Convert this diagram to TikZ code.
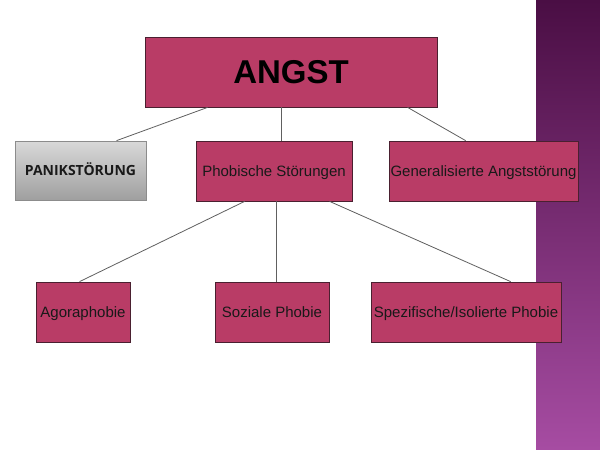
\documentclass[tikz,border=0pt]{standalone}
\usepackage{fontspec}
\setmainfont{Liberation Sans}
\newfontfamily\panikfont{Open Sans}
\usetikzlibrary{shadows}
\definecolor{boxfill}{HTML}{B93C66}
\definecolor{boxedge}{HTML}{4A2030}
\definecolor{bandtop}{HTML}{4A0E44}
\definecolor{bandbot}{HTML}{A64CA2}
\definecolor{linecol}{HTML}{606060}
\tikzset{
  box/.style={draw=boxedge, line width=0.8pt, fill=boxfill, inner sep=0pt,
    font=\fontsize{15}{18}\selectfont, text=black!90, text height=10.8pt, text depth=0pt,
    drop shadow={opacity=0.25, shadow xshift=1.2pt, shadow yshift=-1.2pt}},
  graybox/.style={draw=gray!90, line width=0.8pt, top color=gray!30, bottom color=gray!75,
    inner sep=0pt, font=\panikfont\bfseries\fontsize{14}{16}\selectfont, text=black!90,
    text height=10pt, text depth=0pt,
    drop shadow={opacity=0.25, shadow xshift=1.2pt, shadow yshift=-1.2pt}},
  conn/.style={draw=linecol, line width=0.8pt}
}
\begin{document}
\begin{tikzpicture}[x=1pt,y=-1pt]
\useasboundingbox (0,0) rectangle (600,450);
\fill[white] (0,0) rectangle (600,450);
\shade[top color=bandtop, bottom color=bandbot] (536,0) rectangle (600,449);

\node[box, minimum width=292pt, minimum height=70pt, text=black, text height=23.5pt, font=\bfseries\fontsize{33}{38}\selectfont] (angst) at (291,72) {ANGST};
\node[graybox, minimum width=131pt, minimum height=59pt] (panik) at (80.5,170.5) {PANIKSTÖRUNG};
\node[box, minimum width=156pt, minimum height=60pt] (phob) at (274,171) {Phobische Störungen};
\node[box, minimum width=189pt, minimum height=60pt] (gen) at (483.5,171) {Generalisierte Angststörung};
\node[box, minimum width=94pt, minimum height=60pt] (agora) at (83,312) {Agoraphobie};
\node[box, minimum width=114pt, minimum height=60pt] (soz) at (272,312) {Soziale Phobie};
\node[box, minimum width=190pt, minimum height=60pt] (spez) at (466,312) {Spezifische/Isolierte Phobie};

\draw[conn] ([xshift=63pt]angst.south west) -- ([xshift=102pt]panik.north west);
\draw[conn] ([xshift=137pt]angst.south west) -- ([xshift=86pt]phob.north west);
\draw[conn] ([xshift=263pt]angst.south west) -- ([xshift=77pt]gen.north west);
\draw[conn] ([xshift=49pt]phob.south west) -- ([xshift=44pt]agora.north west);
\draw[conn] ([xshift=81pt]phob.south west) -- ([xshift=62pt]soz.north west);
\draw[conn] ([xshift=134pt]phob.south west) -- ([xshift=140pt]spez.north west);
\end{tikzpicture}
\end{document}
